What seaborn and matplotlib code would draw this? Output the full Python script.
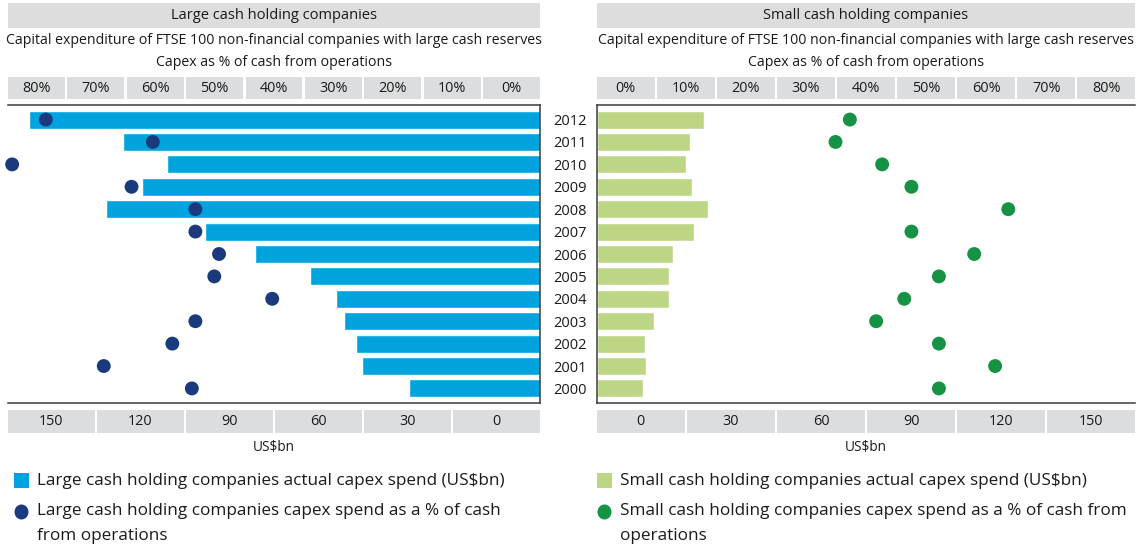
import numpy as np
import pandas as pd
import matplotlib
matplotlib.use("Agg")
import matplotlib.pyplot as plt
from matplotlib.patches import Rectangle, Ellipse
import seaborn as sns

# data
years = ["2012", "2011", "2010", "2009", "2008", "2007", "2006",
         "2005", "2004", "2003", "2002", "2001", "2000"]
large_capex = [172.9, 141.2, 126.1, 134.5, 146.9, 113.2, 96.3, 77.8, 69.0, 66.3, 62.2, 60.3, 44.4]
large_pct = [83.6, 65.5, 89.3, 69.1, 58.3, 58.3, 54.3, 55.1, 45.3, 58.3, 62.2, 73.8, 58.9]
small_capex = [35.7, 31.0, 29.9, 31.9, 37.0, 32.3, 25.5, 24.2, 24.2, 19.0, 16.1, 16.3, 15.4]
small_pct = [42.3, 39.9, 47.7, 52.6, 68.8, 52.6, 63.1, 57.2, 51.4, 46.7, 57.2, 66.6, 57.2]
pct_labels = ["0%", "10%", "20%", "30%", "40%", "50%", "60%", "70%", "80%"]
usd_labels = ["0", "30", "60", "90", "120", "150"]

BLUE = "#00a3de"
NAVY = "#1b3a7e"
LGREEN = "#bdd686"
GREEN = "#159243"
GRAY = "#dcdddf"
INK = "#1a1a1a"

W, H = 1141, 550
sns.set_theme(style="white")
plt.rcParams["font.family"] = ["Open Sans", "DejaVu Sans"]
plt.rcParams["text.color"] = INK

fig = plt.figure(figsize=(W / 100, H / 100), dpi=100)

# pixel canvas for boxes, headings and legend
canvas = fig.add_axes([0, 0, 1, 1])
canvas.set_xlim(0, W)
canvas.set_ylim(H, 0)
canvas.axis("off")


def box(x0, x1, y0, y1):
    canvas.add_patch(Rectangle((x0, y0), x1 - x0, y1 - y0, color=GRAY, lw=0))


def label_row(x0, x1, y0, y1, labels, gap=2.5):
    w = (x1 - x0 + gap) / len(labels)
    for i, lab in enumerate(labels):
        bx = x0 + i * w
        box(bx, bx + w - gap, y0, y1)
        canvas.text(bx + (w - gap) / 2, (y0 + y1) / 2, lab, ha="center", va="center", fontsize=10.4)


def panel(x0, x1, capex, pct, bar_color, dot_color, flip, title):
    cx = (x0 + x1) / 2
    box(x0, x1, 3, 28)
    canvas.text(cx, 15.5, title, ha="center", va="center", fontsize=10.5)
    canvas.text(cx, 41, "Capital expenditure of FTSE 100 non-financial companies with large cash reserves",
                ha="center", va="center", fontsize=10.2)
    canvas.text(cx, 62, "Capex as % of cash from operations", ha="center", va="center", fontsize=10.2)
    label_row(x0, x1, 77, 99, pct_labels[::-1] if flip else pct_labels)
    label_row(x0, x1, 410, 433, usd_labels[::-1] if flip else usd_labels)
    canvas.text(cx, 447, "US$bn", ha="center", va="center", fontsize=9.8)

    rect = [x0 / W, 1 - 403 / H, (x1 - x0) / W, (403 - 105) / H]
    ax = fig.add_axes(rect)
    df = pd.DataFrame({"year": years, "capex": capex})
    sns.barplot(data=df, x="capex", y="year", order=years, orient="h", color=bar_color,
                saturation=1, width=0.8, ax=ax)
    ax.set_xlim((180, 0) if flip else (0, 180))
    ax.set_ylim(12.65, -0.65)
    ax.set_xlabel("")
    ax.set_ylabel("")
    ax.set_xticks([])
    for s in ax.spines.values():
        s.set_color("#3a3a3a")
        s.set_linewidth(1.1)
    ax.spines["left" if flip else "right"].set_visible(False)
    if flip:
        ax.yaxis.tick_right()
        ax.tick_params(axis="y", length=0, pad=9.5, labelsize=10.5, labelcolor=INK)
    else:
        ax.set_yticks([])

    dots = fig.add_axes(rect, facecolor="none")
    sns.scatterplot(x=pct, y=np.arange(len(years)), color=dot_color, s=100, edgecolor="none",
                    clip_on=False, legend=False, ax=dots)
    dots.set_xlim((90, 0) if flip else (0, 90))
    dots.set_ylim(12.65, -0.65)
    dots.axis("off")


panel(8, 540, large_capex, large_pct, BLUE, NAVY, True, "Large cash holding companies")
panel(597, 1135, small_capex, small_pct, LGREEN, GREEN, False, "Small cash holding companies")

# legends
for x, sq, dot, name, txt2, txt3 in [
    (14, BLUE, NAVY, "Large", "Large cash holding companies capex spend as a % of cash", "from operations"),
    (597, LGREEN, GREEN, "Small", "Small cash holding companies capex spend as a % of cash from", "operations"),
]:
    canvas.add_patch(Rectangle((x, 473), 15, 15, color=sq, lw=0))
    canvas.text(x + 23, 481, f"{name} cash holding companies actual capex spend (US$bn)",
                ha="left", va="center", fontsize=12.3)
    canvas.add_patch(Ellipse((x + 7.5, 512), 14, 15, color=dot, lw=0))
    canvas.text(x + 23, 511, txt2, ha="left", va="center", fontsize=12.3)
    canvas.text(x + 23, 536, txt3, ha="left", va="center", fontsize=12.3)

fig.savefig("out.png", dpi=100)
